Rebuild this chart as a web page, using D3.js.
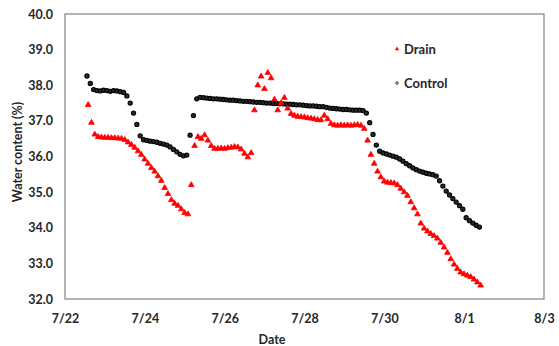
<!DOCTYPE html>
<html>
<head>
<meta charset="utf-8">
<script src="https://cdn.jsdelivr.net/npm/d3@7"></script>
<style>
  body { margin: 0; background: #fff; }
  svg { display: block; font-family: Lato, "Open Sans", sans-serif; }
</style>
</head>
<body>
<div id="chart"></div>
<script>
// logger readings, one every 2 hours
const controlStart = "2019-07-22T13:12";
const drainStart = "2019-07-22T13:55";
const stepHours = 2;

const controlValues = [
  38.26, 38.05, 37.88, 37.85, 37.84, 37.86, 37.85, 37.83, 37.85, 37.84,
  37.82, 37.80, 37.70, 37.50, 37.22, 36.90, 36.58, 36.47, 36.45, 36.43,
  36.42, 36.40, 36.37, 36.35, 36.32, 36.27, 36.20, 36.13, 36.06, 36.02,
  36.04, 36.60, 37.15, 37.62, 37.66, 37.65, 37.64, 37.63, 37.62, 37.62,
  37.61, 37.60, 37.59, 37.58, 37.58, 37.57, 37.56, 37.55, 37.55, 37.54,
  37.53, 37.52, 37.52, 37.51, 37.50, 37.50, 37.49, 37.49, 37.48, 37.48,
  37.47, 37.47, 37.46, 37.45, 37.45, 37.44, 37.43, 37.42, 37.42, 37.41,
  37.40, 37.40, 37.38, 37.36, 37.35, 37.34, 37.33, 37.32, 37.32, 37.31,
  37.30, 37.30, 37.30, 37.29, 37.22, 36.95, 36.62, 36.32, 36.15, 36.10,
  36.07, 36.04, 36.01, 35.98, 35.93, 35.87, 35.80, 35.74, 35.68, 35.63,
  35.59, 35.56, 35.53, 35.51, 35.49, 35.45, 35.32, 35.17, 35.03, 34.92,
  34.82, 34.72, 34.62, 34.52, 34.28, 34.20, 34.13, 34.07, 34.02
];

const drainValues = [
  37.45, 36.95, 36.62, 36.55, 36.54, 36.53, 36.53, 36.52, 36.52, 36.51,
  36.50, 36.47, 36.40, 36.33, 36.25, 36.15, 36.05, 35.92, 35.80, 35.68,
  35.58, 35.45, 35.32, 35.12, 34.95, 34.78, 34.68, 34.62, 34.52, 34.42,
  34.38, 35.20, 36.30, 36.55, 36.50, 36.60, 36.45, 36.30, 36.22, 36.22,
  36.23, 36.22, 36.24, 36.25, 36.27, 36.26, 36.20, 36.08, 35.98, 36.10,
  37.30, 38.00, 38.25, 37.90, 38.35, 38.20, 37.60, 37.30, 37.50, 37.65,
  37.35, 37.20, 37.15, 37.12, 37.11, 37.10, 37.08, 37.07, 37.05, 37.03,
  37.02, 37.15, 37.05, 36.92, 36.88, 36.87, 36.88, 36.87, 36.88, 36.87,
  36.88, 36.89, 36.87, 36.78, 36.45, 36.05, 35.80, 35.58, 35.42, 35.30,
  35.27, 35.26, 35.25, 35.20, 35.10, 35.00, 34.90, 34.72, 34.55, 34.38,
  34.12, 33.98, 33.90, 33.83, 33.77, 33.70, 33.58, 33.45, 33.30, 33.12,
  32.97, 32.85, 32.75, 32.70, 32.66, 32.62, 32.55, 32.47, 32.38
];

const xTickLabels = ["7/22", "7/24", "7/26", "7/28", "7/30", "8/1", "8/3"];
const yTicks = [32, 33, 34, 35, 36, 37, 38, 39, 40];
const seriesNames = ["Drain", "Control"];

const width = 559, height = 346;
const margin = { top: 14, right: 15, bottom: 47, left: 65 };

const parseTick = d3.timeParse("%m/%d/%Y");
const tickDates = xTickLabels.map(t => parseTick(t + "/2019"));

function toPoints(start, values) {
  const t0 = new Date(start);
  return values.map((v, i) => ({ t: d3.timeHour.offset(t0, i * stepHours), v }));
}
const control = toPoints(controlStart, controlValues);
const drain = toPoints(drainStart, drainValues);

const svg = d3.select("#chart").append("svg")
  .attr("width", width)
  .attr("height", height);

const x = d3.scaleTime()
  .domain([tickDates[0], tickDates[tickDates.length - 1]])
  .range([margin.left, width - margin.right]);

const y = d3.scaleLinear()
  .domain([32, 40])
  .range([height - margin.bottom, margin.top]);

svg.append("g")
  .attr("transform", `translate(0,${height - margin.bottom})`)
  .call(d3.axisBottom(x).tickValues(tickDates).tickFormat(d3.timeFormat("%-m/%-d")).tickSize(0).tickPadding(15))
  .call(g => g.select(".domain").remove())
  .selectAll("text")
  .attr("font-size", 12.5).attr("font-weight", 700).attr("fill", "#262626")
  .attr("font-family", "Lato, sans-serif");

svg.append("g")
  .attr("transform", `translate(${margin.left},0)`)
  .call(d3.axisLeft(y).tickValues(yTicks).tickFormat(d3.format(".1f")).tickSize(0).tickPadding(12))
  .call(g => g.select(".domain").remove())
  .selectAll("text")
  .attr("font-size", 12.5).attr("font-weight", 700).attr("fill", "#262626")
  .attr("font-family", "Lato, sans-serif");

// frame
svg.append("rect")
  .attr("x", margin.left)
  .attr("y", margin.top)
  .attr("width", width - margin.left - margin.right)
  .attr("height", height - margin.top - margin.bottom)
  .attr("fill", "none")
  .attr("stroke", "#8c8c8c")
  .attr("stroke-width", 1.3);

// control: dark circles
svg.append("g").selectAll("circle")
  .data(control)
  .join("circle")
  .attr("cx", d => x(d.t))
  .attr("cy", d => y(d.v))
  .attr("r", 2.1)
  .attr("fill", "#2a2a2a")
  .attr("stroke", "#000")
  .attr("stroke-width", 1.1);

// drain: red triangles
const tri = d3.symbol().type(d3.symbolTriangle).size(14);
svg.append("g").selectAll("path")
  .data(drain)
  .join("path")
  .attr("transform", d => `translate(${x(d.t)},${y(d.v)})`)
  .attr("d", tri)
  .attr("fill", "#ff0000")
  .attr("stroke", "#ff0000")
  .attr("stroke-width", 0.8);

// legend
const legend = svg.append("g").attr("transform", "translate(397,49)");
seriesNames.forEach((name, i) => {
  const row = legend.append("g").attr("transform", `translate(0,${i * 34})`);
  if (name === "Drain") {
    row.append("path").attr("d", d3.symbol().type(d3.symbolTriangle).size(8)).attr("fill", "#ff0000");
  } else {
    row.append("circle").attr("r", 1.5).attr("fill", "#888").attr("stroke", "#555").attr("stroke-width", 0.6);
  }
  row.append("text")
    .attr("x", 7)
    .attr("dy", "0.35em")
    .attr("font-size", 13)
    .attr("font-weight", 700)
    .attr("fill", "#262626")
    .text(name);
});

// axis titles
svg.append("text")
  .attr("x", 272)
  .attr("y", 340)
  .attr("text-anchor", "middle")
  .attr("dy", "0.35em")
  .attr("font-size", 12.5)
  .attr("font-weight", 700)
  .attr("fill", "#262626")
  .text("Date");

svg.append("text")
  .attr("transform", "translate(18,152) rotate(-90)")
  .attr("text-anchor", "middle")
  .attr("dy", "0.35em")
  .attr("font-size", 12.5)
  .attr("font-weight", 700)
  .attr("fill", "#262626")
  .text("Water content (%)");
</script>
</body>
</html>
